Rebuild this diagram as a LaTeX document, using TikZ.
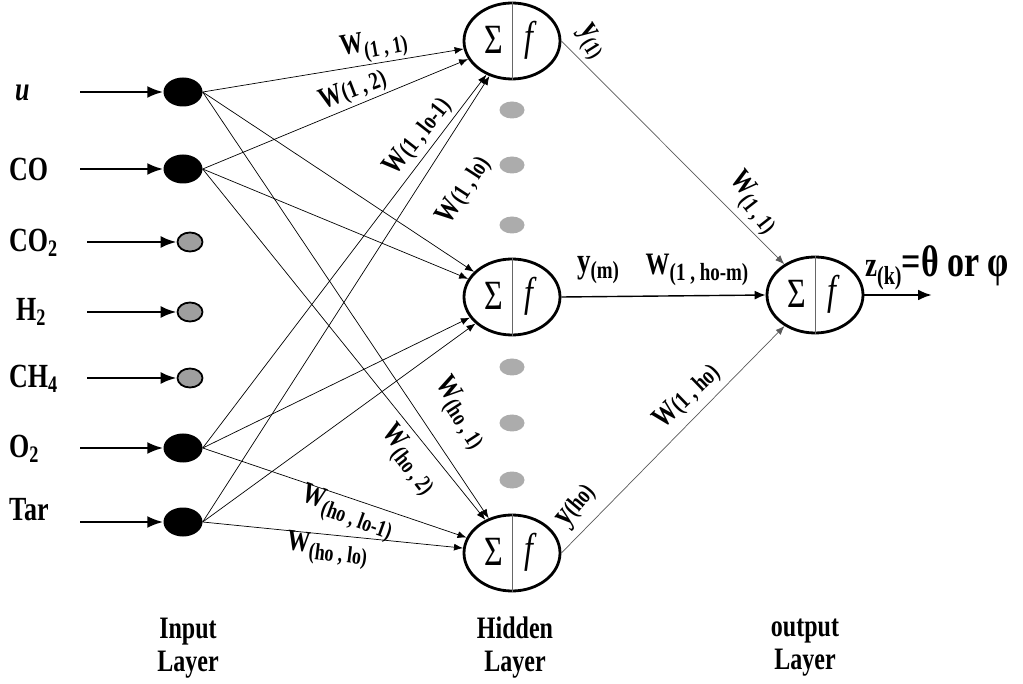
\documentclass[tikz,border=0pt]{standalone}
\usepackage{fontspec}
\usepackage{graphicx}
\setmainfont{Liberation Serif}
\usetikzlibrary{arrows.meta,shapes.geometric}
\newcommand{\vst}[1]{\scalebox{1}[1.3]{#1}}
\newcommand{\wsub}[2]{\vst{W\raisebox{-5pt}{\fontsize{#2}{#2}\selectfont(#1)}}}
\newcommand{\wbase}[2]{\vst{W{\fontsize{#2}{#2}\selectfont(#1)}}}
\begin{document}
\begin{tikzpicture}[x=1pt,y=-1pt,
  inbig/.style={ellipse,fill=black,minimum width=39pt,minimum height=29pt,inner sep=0pt},
  insmall/.style={ellipse,fill=gray!75,draw=black,line width=1.8pt,minimum width=25pt,minimum height=19pt,inner sep=0pt},
  neuron/.style={ellipse,draw=black,line width=2.8pt,minimum width=96pt,minimum height=76pt,inner sep=0pt},
  gdot/.style={ellipse,fill=gray!65,minimum width=25pt,minimum height=17pt,inner sep=0pt},
  feed/.style={line width=2.6pt,-{Latex[length=16pt,width=12pt]}},
  conn/.style={line width=0.7pt,-{Latex[length=9pt,width=7pt]}},
  inlab/.style={anchor=west,inner sep=0pt,font=\fontsize{26}{28}\selectfont\bfseries},
  wlab/.style={inner sep=0pt,font=\fontsize{23}{25}\selectfont\bfseries},
  layerlab/.style={align=center,font=\fontsize{24}{33}\selectfont\bfseries},
  divider/.style={gray!80!black,line width=0.9pt}
]
\useasboundingbox (0,0) rectangle (1023,684);

% input nodes
\node[inbig] (nu) at (183,92) {};
\node[inbig] (nco) at (183,169) {};
\node[insmall] (nco2) at (190,242) {};
\node[insmall] (nh2) at (190,312) {};
\node[insmall] (nch4) at (190,378) {};
\node[inbig] (no2) at (183,448) {};
\node[inbig] (ntar) at (183,522) {};

% input labels
\node[inlab] (lu) at (15,93) {\vst{\textit{u}}};
\node[inlab] (lco) at (9,169) {\vst{CO}};
\node[inlab] (lco2) at (9,243) {\vst{CO\textsubscript{2}}};
\node[inlab] (lh2) at (16,312) {\vst{H\textsubscript{2}}};
\node[inlab] (lch4) at (9,379) {\vst{CH\textsubscript{4}}};
\node[inlab] (lo2) at (9,449) {\vst{O\textsubscript{2}}};
\node[inlab] (ltar) at (9,510) {\vst{Tar}};

% input feed arrows
\coordinate (su) at (80,92);
\coordinate (sco) at (80,169);
\coordinate (sco2) at (87,242);
\coordinate (sh2) at (87,312);
\coordinate (sch4) at (87,378);
\coordinate (so2) at (80,448);
\coordinate (star) at (80,522);
\draw[feed] (su) -- (nu);
\draw[feed] (sco) -- (nco);
\draw[feed] (sco2) -- (nco2);
\draw[feed] (sh2) -- (nh2);
\draw[feed] (sch4) -- (nch4);
\draw[feed] (so2) -- (no2);
\draw[feed] (star) -- (ntar);

% neurons
\node[neuron] (h1) at (512,41) {};
\node[neuron] (hm) at (512,297) {};
\node[neuron] (hn) at (512,553) {};
\node[neuron] (out) at (815,295) {};
\foreach \n in {h1,hm,hn,out}{
  \draw[divider] (\n.north) -- (\n.south);
  \node at ([xshift=-18pt,yshift=1pt]\n.center) {\fontsize{32}{32}\selectfont\vst{Σ}};
  \node at ([xshift=17pt,yshift=1pt]\n.center) {\fontsize{32}{32}\selectfont\itshape\vst{f}};
}

% gray dots
\node[gdot] (d1) at (512,110) {};
\node[gdot] (d2) at (512,165) {};
\node[gdot] (d3) at (512,225) {};
\node[gdot] (d4) at (512,367) {};
\node[gdot] (d5) at (512,423) {};
\node[gdot] (d6) at (512,480) {};

% input -> hidden connections
\foreach \i in {nu,nco,no2,ntar}{
  \foreach \j in {h1,hm,hn}{
    \draw[conn] (\i.east) -- (\j);
  }
}

% weight labels (input -> hidden)
\node[wlab,rotate=10] (w11) at (374,46) {\wsub{1 , 1}{18}};
\node[wlab,rotate=21] (w12) at (353,90) {\wbase{1 , 2}{19}};
\node[wlab,rotate=52] (w1lo1) at (418,137) {\wbase{1 , lo-1}{19}};
\node[wlab,rotate=57] (w1lo) at (464,190) {\wbase{1 , lo}{19}};
\node[wlab,rotate=-57] (wh1) at (460,413) {\wsub{ho , 1}{18}};
\node[wlab,rotate=-52] (wh2) at (408,460) {\wsub{ho , 2}{18}};
\node[wlab,rotate=-20] (whlo1) at (347,513) {\wsub{ho , lo-1}{18}};
\node[wlab,rotate=-7] (whlo) at (327,550) {\wsub{ho , lo}{18}};

% hidden -> output
\draw[conn,gray!70!black] (h1.east) -- (out);
\draw[line width=1.4pt,-{Latex[length=11pt,width=9pt]}] (hm.east) -- (out.west);
\draw[conn,gray!70!black] (hn.east) -- (out);
\coordinate (zend) at (932,295);
\draw[line width=2.6pt,-{Latex[length=14pt,width=11pt]}] (out.east) -- (zend);

% output-side labels
\node[wlab,rotate=-58,font=\fontsize{26}{26}\selectfont\bfseries] (ly1) at (590,42) {\vst{y\raisebox{-5pt}{\fontsize{17}{17}\selectfont(1)}}};
\node[wlab,rotate=-52] (wo11) at (753,203) {\wsub{1 , 1}{18}};
\node[wlab,font=\fontsize{27}{27}\selectfont\bfseries] (lym) at (598,270) {\vst{y\raisebox{-5pt}{\fontsize{19}{19}\selectfont(m)}}};
\node[wlab,font=\fontsize{24}{24}\selectfont\bfseries] (wohm) at (697,270) {\wsub{1 , ho-m}{19}};
\node[wlab,rotate=44] (wo1ho) at (687,397) {\wbase{1 , ho}{19}};
\node[wlab,rotate=50,font=\fontsize{26}{26}\selectfont\bfseries] (lyho) at (577,507) {\vst{y{\fontsize{19}{19}\selectfont(ho)}}};
\node[anchor=west,inner sep=0pt,font=\bfseries] (lz) at (865,268) {\vst{\fontsize{27}{27}\selectfont z\raisebox{-6pt}{\fontsize{20}{20}\selectfont(k)}\fontsize{34}{34}\selectfont=θ or φ}};

% layer labels
\node[layerlab] (li) at (188,648) {\vst{Input}\\\vst{Layer}};
\node[layerlab] (lh) at (515,648) {\vst{Hidden}\\\vst{Layer}};
\node[layerlab] (lo) at (805,648) {\vst{output}\\\vst{Layer}};
\end{tikzpicture}
\end{document}
